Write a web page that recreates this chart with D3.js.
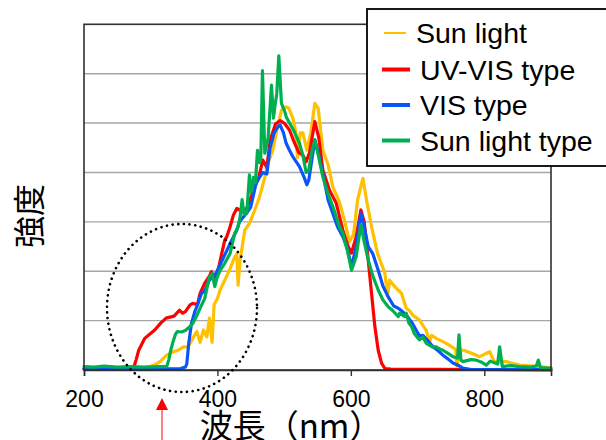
<!DOCTYPE html>
<html><head><meta charset="utf-8">
<script src="https://cdn.jsdelivr.net/npm/d3@7"></script>
<style>body{margin:0;background:#fff}svg{display:block}</style>
</head><body>
<svg id="c" width="606" height="440"></svg>
<script>
// ---- data (wavelength nm, relative intensity) ----
const xTicks = [200, 400, 600, 800];
const seriesNames = ["Sun light", "UV-VIS type", "VIS type", "Sun light type"];
const seriesColors = ["#FFC000", "#FF0000", "#0A55FA", "#00B050"];

const sunLight = [[200,0.04],[250,0.04],[290,0.04],[299,0.07],[305,0.1],[314,0.17],[324,0.3],[334,0.37],[341,0.4],[349,0.47],[356,0.47],[363,0.64],[369,0.78],[374,0.56],[379,0.81],[384,0.67],[388,1.05],[392,0.56],[395,1.32],[400,1.45],[404,1.62],[411,1.82],[418,2.02],[426,2.29],[429,2.35],[431,1.72],[434,2.23],[441,2.83],[448,2.97],[456,3.24],[463,3.5],[471,3.9],[476,4.2],[483,4.45],[488,4.79],[496,5.26],[503,5.33],[507,5.3],[513,5.1],[517,4.85],[520,4.3],[524,4.8],[528,4.8],[534,4.45],[540,4.8],[546,5.4],[551,5.3],[558,4.45],[566,4.15],[573,3.71],[583,3.4],[591,3.0],[598,2.6],[604,2.75],[610,3.44],[618,3.88],[624,3.4],[631,2.9],[640,2.36],[651,1.96],[655,1.5],[658,1.82],[665,1.7],[676,1.55],[683,1.25],[688,1.2],[693,1.11],[703,1.01],[713,0.8],[718,0.57],[721,0.7],[728,0.64],[743,0.54],[757,0.42],[759,0.08],[762,0.4],[769,0.4],[781,0.34],[793,0.27],[808,0.37],[815,0.17],[833,0.17],[853,0.1],[883,0.07],[900,0.04]];

const uvVisType = [[200,0.02],[274,0.03],[278,0.2],[282,0.4],[291,0.64],[306,0.81],[315,0.95],[323,1.05],[335,1.09],[343,1.21],[348,1.15],[352,1.18],[359,1.32],[363,1.35],[370,1.32],[374,1.55],[381,1.76],[388,1.9],[391,1.99],[396,1.85],[399,1.89],[406,2.33],[411,2.63],[414,2.7],[419,2.9],[424,3.14],[429,3.27],[439,3.2],[445,3.3],[456,3.71],[462,3.9],[468,4.25],[474,4.1],[479,4.65],[487,4.98],[494,5.05],[500,5.0],[508,4.86],[514,4.65],[522,4.4],[528,4.35],[533,4.22],[538,4.4],[546,5.03],[552,4.7],[558,4.05],[568,3.64],[578,3.38],[588,2.83],[596,2.5],[601,2.37],[608,2.7],[615,3.24],[620,3.0],[626,2.23],[631,1.55],[636,0.88],[641,0.4],[646,0.14],[651,0.03],[660,0.02],[790,0.01],[900,0.0]];

const visType = [[200,0.02],[300,0.02],[345,0.03],[352,0.06],[354,0.12],[357,0.54],[361,0.94],[366,1.18],[371,1.35],[376,1.55],[381,1.6],[388,1.82],[398,1.96],[404,2.13],[411,2.33],[419,2.56],[429,2.83],[433,3.0],[445,3.2],[450,3.3],[458,3.79],[463,3.9],[468,4.0],[474,3.97],[479,4.5],[485,4.8],[491,4.93],[494,4.96],[499,4.8],[503,4.59],[508,4.45],[513,4.32],[523,4.12],[530,3.9],[534,3.75],[537,3.85],[542,4.3],[546,4.66],[551,4.4],[558,3.98],[566,3.44],[573,3.17],[580,2.9],[588,2.7],[595,2.45],[601,2.09],[608,2.5],[615,3.17],[620,2.9],[626,2.5],[633,2.35],[641,2.02],[648,1.7],[656,1.48],[664,1.3],[671,1.25],[676,1.2],[685,1.08],[692,0.95],[699,0.78],[703,0.69],[708,0.7],[715,0.6],[723,0.47],[730,0.4],[738,0.3],[746,0.22],[753,0.14],[763,0.08],[768,0.04],[780,0.01],[900,0.01]];

const sunLightType = [[200,0.07],[215,0.06],[230,0.08],[250,0.06],[270,0.07],[290,0.06],[310,0.07],[324,0.07],[327,0.2],[330,0.4],[333,0.55],[337,0.72],[340,0.78],[346,0.77],[352,0.8],[358,0.87],[363,0.94],[369,1.1],[375,1.28],[381,1.45],[388,1.89],[392,1.95],[396,1.69],[399,1.85],[404,2.02],[411,2.16],[419,2.36],[426,2.77],[431,2.9],[434,3.1],[437,3.45],[440,3.15],[444,3.17],[448,3.95],[450,3.6],[452,3.64],[454,3.9],[457,3.79],[460,4.45],[463,4.2],[465,4.25],[467.5,6.06],[471,4.39],[476,4.7],[481,5.77],[484,5.1],[486,5.33],[489,5.6],[492,6.36],[496,5.4],[501,5.23],[503,5.13],[508,5.0],[514,4.86],[523,4.59],[528,4.35],[533,4.0],[537,4.05],[541,4.4],[546,4.66],[552,4.3],[558,3.91],[565,3.6],[573,3.31],[583,2.9],[588,2.77],[595,2.4],[601,2.02],[608,2.3],[615,2.94],[620,2.6],[626,2.23],[633,1.9],[641,1.62],[648,1.42],[656,1.28],[663,1.2],[671,1.08],[673,1.15],[681,1.08],[683,1.15],[687,0.95],[691,0.88],[695,0.74],[703,0.61],[708,0.67],[713,0.54],[722,0.47],[728,0.47],[734,0.42],[738,0.4],[745,0.34],[753,0.27],[760,0.24],[762,0.71],[765,0.2],[768,0.17],[780,0.21],[788,0.2],[797,0.15],[803,0.1],[809,0.18],[820,0.12],[823,0.47],[827,0.07],[840,0.09],[853,0.07],[870,0.06],[878,0.08],[881,0.2],[884,0.05],[897,0.04],[900,0.04]];

const allSeries = [sunLight, uvVisType, visType, sunLightType];

// ---- drawing ----
const svg = d3.select("#c");
const L = 84, R = 551, T = 24.3, B = 370;
const x = d3.scaleLinear().domain([200, 900]).range([L, R]);
const y = d3.scaleLinear().domain([0, 7]).range([B, T]);
const latin = "'Liberation Sans', Arial, sans-serif";
const cjk = "'Noto Sans CJK JP', 'Noto Sans CJK SC', sans-serif";

// gridlines
svg.append("g").selectAll("line").data(d3.range(1, 7)).join("line")
  .attr("x1", L).attr("x2", R).attr("y1", d => y(d)).attr("y2", d => y(d))
  .attr("stroke", "#a6a6a6").attr("stroke-width", 1.4);

// series
const line = d3.line().x(d => x(d[0])).y(d => y(d[1]));
svg.append("g").selectAll("path").data(allSeries).join("path")
  .attr("d", line).attr("fill", "none")
  .attr("stroke", (d, i) => seriesColors[i])
  .attr("stroke-width", 3.2).attr("stroke-linejoin", "round").attr("stroke-linecap", "round");

// frame
svg.append("rect").attr("x", L).attr("y", T).attr("width", R - L).attr("height", B - T)
  .attr("fill", "none").attr("stroke", "#303030").attr("stroke-width", 1.6);

// x axis
const ax = svg.append("g").attr("transform", `translate(0,${B})`)
  .call(d3.axisBottom(x).tickValues(xTicks).tickSize(6).tickFormat(d3.format("d")));
ax.select(".domain").attr("stroke", "#303030").attr("stroke-width", 1.6);
ax.selectAll(".tick line").attr("stroke", "#303030").attr("stroke-width", 1.4);
ax.selectAll("text").attr("y", 36.5).attr("dy", null)
  .attr("font-family", latin).attr("font-size", 23).attr("fill", "#000");

// dotted ellipse
svg.append("ellipse").attr("cx", 182).attr("cy", 308).attr("rx", 75).attr("ry", 84)
  .attr("fill", "none").attr("stroke", "#000").attr("stroke-width", 2.6)
  .attr("stroke-dasharray", "0.1 5.6").attr("stroke-linecap", "round");

// red arrow
svg.append("line").attr("x1", 162).attr("x2", 162).attr("y1", 440).attr("y2", 407)
  .attr("stroke", "#ff3030").attr("stroke-width", 1.2);
svg.append("path").attr("d", "M162,398 L156,410 L168,410 Z").attr("fill", "#ff0000");

// axis titles
svg.append("text").attr("x", 291).attr("y", 438).attr("text-anchor", "middle")
  .attr("font-family", cjk).attr("font-size", 33).attr("fill", "#000").text("波長（nm）");
svg.append("text").attr("transform", "translate(41,216) rotate(-90)").attr("text-anchor", "middle")
  .attr("font-family", cjk).attr("font-size", 32).attr("fill", "#000").text("強度");

// legend
const lg = svg.append("g");
lg.append("rect").attr("x", 367).attr("y", 9).attr("width", 250).attr("height", 157)
  .attr("fill", "#fff").attr("stroke", "#000").attr("stroke-width", 1.8);
const rowsY = [43, 79.5, 115, 150.5];
seriesNames.forEach((name, i) => {
  const cy = rowsY[i] - 10;
  lg.append("line")
    .attr("x1", i === 0 ? 384 : 382).attr("x2", i === 0 ? 406 : 410)
    .attr("y1", cy).attr("y2", cy)
    .attr("stroke", seriesColors[i]).attr("stroke-width", i === 0 ? 2 : 4);
  lg.append("text").attr("x", i === 0 ? 416 : 420).attr("y", rowsY[i])
    .attr("font-family", latin).attr("font-size", 28.5).attr("fill", "#000").text(name);
});
</script>
</body></html>
